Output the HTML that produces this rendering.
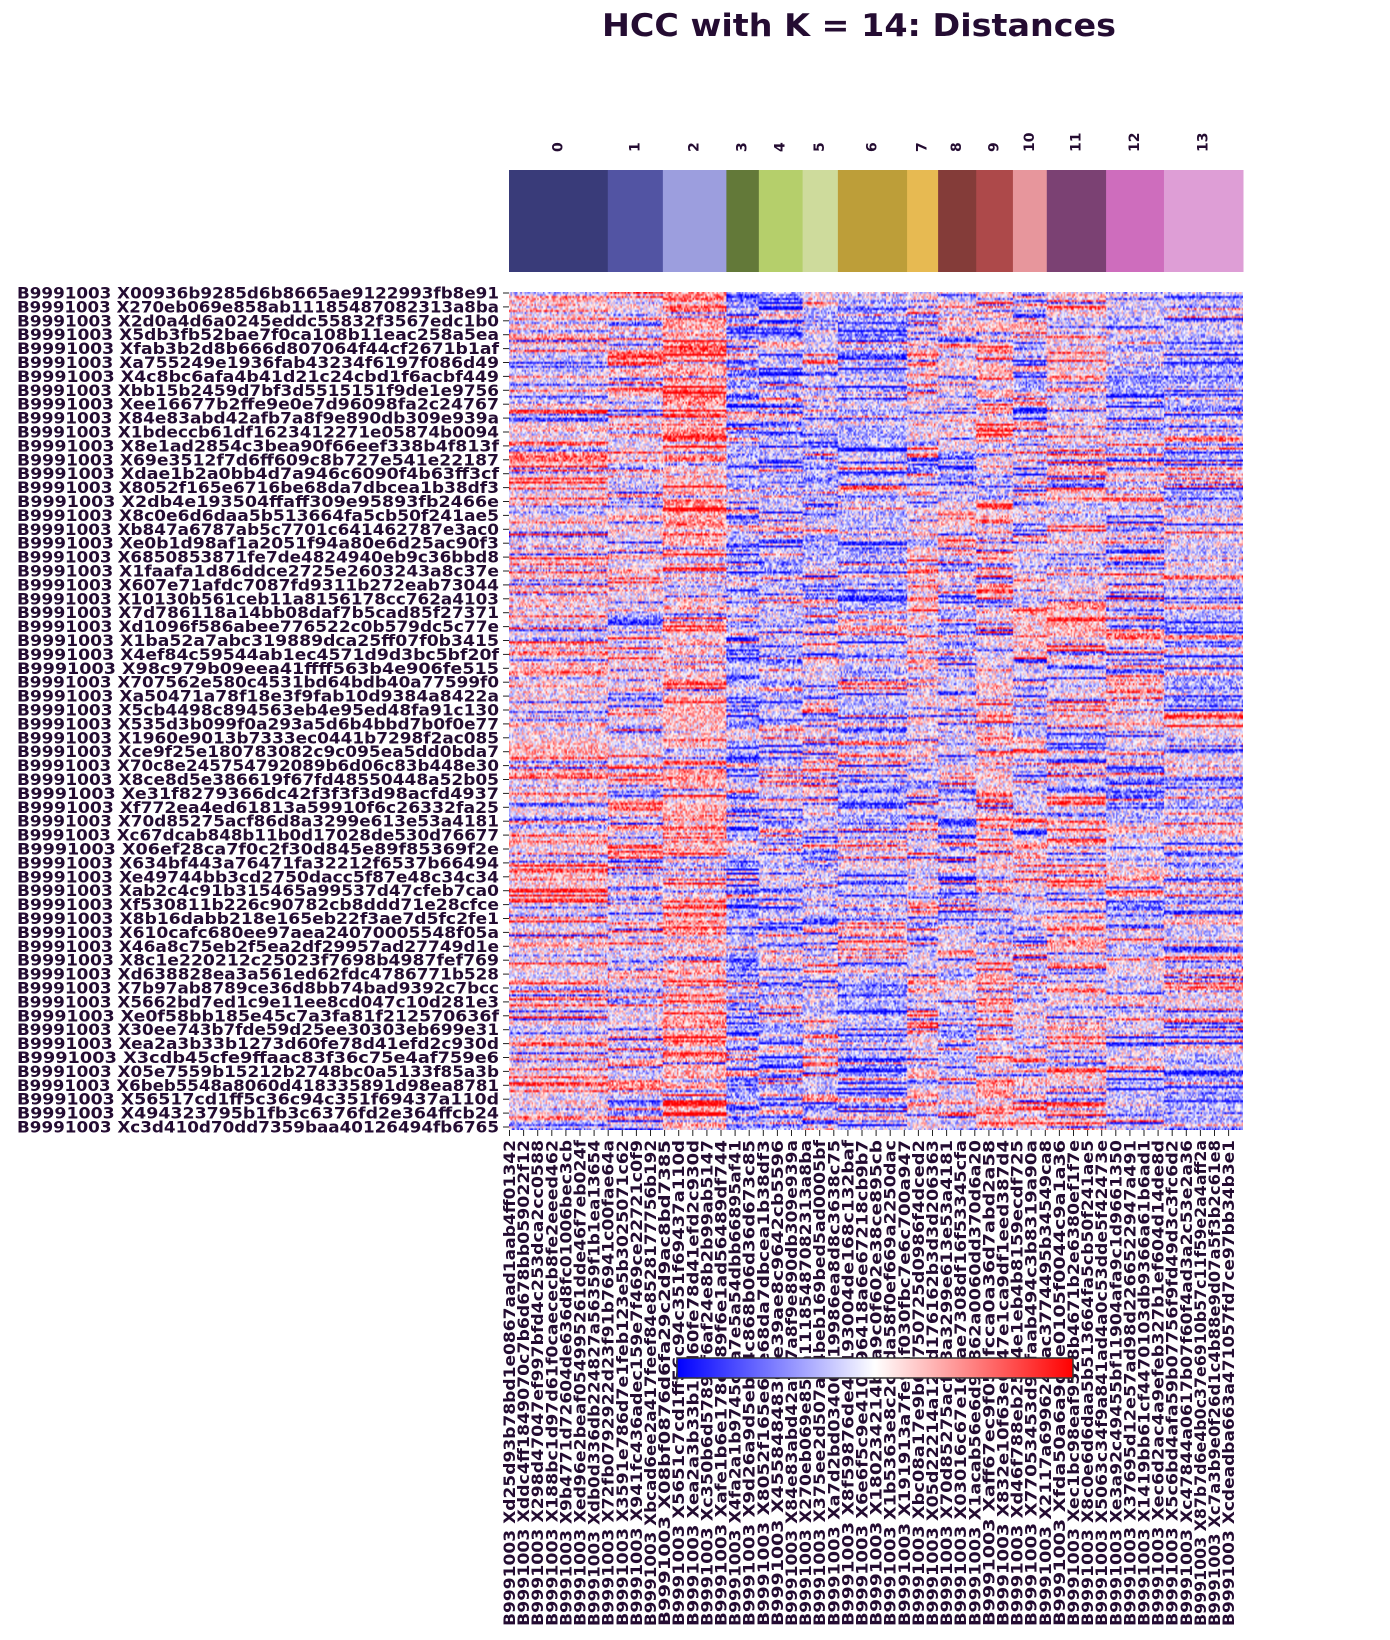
<!DOCTYPE html>
<html><head><meta charset="utf-8"><style>
html,body{margin:0;padding:0;background:#fff;}
#wrap{position:relative;width:1390px;height:1640px;overflow:hidden;}
svg{position:absolute;left:0;top:0;}
#hm{position:absolute;left:509px;top:292px;width:734px;height:838px;}
text{font-family:"DejaVu Sans","Liberation Sans",sans-serif;font-weight:bold;fill:#240c32;}
</style></head><body>
<div id="wrap">
<svg id="svg" width="1390" height="1640">
<text x="859" y="36" text-anchor="middle" font-size="31" textLength="514" lengthAdjust="spacingAndGlyphs">HCC with K = 14: Distances</text>
<g id="clusters"></g>
<g id="rows"></g>
<g id="cols"></g>
<g id="cbar"></g>
</svg>
<canvas id="hm" width="520" height="420"></canvas>
</div>
<script>
const clusterNames=["0","1","2","3","4","5","6","7","8","9","10","11","12","13"];
const clusterColors=["#393b79","#5254a3","#9c9ede","#637939","#b5cf6b","#cedb9c","#bd9e39","#e7ba52","#843c39","#ad494a","#e7969c","#7b4173","#ce6dbd","#de9ed6"];
const clusterSizes=[70,39,45,23,31,25,49,22,27,26,24,42,41,56];
const bandMeans=[
[0.2,-0.1,0.4,-0.4,-0.3,-0.1,-0.4,0.1,-0.1,0.2,-0.2,0,-0.2,-0.3],
[-0.1,0.2,0.4,-0.4,-0.3,-0.2,-0.4,0.2,-0.1,0.3,-0.4,0.1,-0.4,-0.4],
[0.1,0,0.3,-0.3,-0.2,-0.1,-0.3,0,0.1,0.2,-0.2,0,-0.2,-0.2],
[0.1,-0.1,0.2,-0.2,-0.2,-0.3,-0.2,0,-0.3,0.1,-0.1,0.1,-0.1,-0.3],
[0,0,0.4,-0.3,-0.2,-0.2,-0.2,0.1,0.2,0.1,-0.1,-0.1,-0.1,-0.1],
[0.1,0,0.3,-0.3,-0.3,-0.1,-0.3,0.1,-0.2,0.1,0,-0.1,0,0],
[0,0,0.3,-0.3,-0.2,-0.1,-0.3,0.1,-0.3,0,0.2,0.2,0,-0.3],
[0.1,0,0.3,-0.3,-0.3,-0.1,-0.2,0.1,-0.2,0,-0.2,0,0.1,-0.3],
[0.2,-0.1,0.2,-0.3,-0.2,-0.1,-0.1,0.1,-0.1,0.2,-0.1,-0.1,0,0.1],
[0,0.1,0.3,-0.3,-0.2,0,-0.3,0,-0.1,0.1,-0.2,0,-0.3,-0.2],
[0,0,0.2,-0.2,-0.3,-0.1,-0.1,0,-0.2,0.1,-0.1,0.1,0,-0.2],
[0.1,0,0.3,-0.4,-0.2,-0.2,-0.3,0,-0.3,-0.1,-0.1,0.1,-0.1,-0.2],
[0,0,0.2,-0.3,-0.1,-0.1,-0.1,0,-0.1,0.1,-0.2,0.2,0,-0.1],
[0.1,0,0.3,-0.3,-0.2,-0.2,-0.3,0.1,-0.1,0.2,0.1,0.1,-0.1,0],
[0,-0.1,0.3,-0.3,-0.3,-0.1,-0.2,0,-0.2,0,0,0.1,-0.1,-0.2],
[0,-0.1,0.3,-0.4,-0.3,-0.2,-0.3,0,-0.1,0.3,0.1,0.1,-0.2,-0.3]];
const rowLabels=["X00936b9285d6b8665ae9122993fb8e91","X270eb069e858ab11185487082313a8ba","X2d0a4d6a0245eddc55832f3567edc1b0","X5db3fb52bae7f0ca108b11eac258a5ea","Xfab3b2d8b666d807064f44cf2671b1af","Xa755249e1936fab43234f6197f086d49","X4c8bc6afa4b41d21c24cbd1f6acbf449","Xbb15b2459d7bf3d5515151f9de1e9756","Xee16677b2ffe9e0e7d96098fa2c24767","X84e83abd42afb7a8f9e890db309e939a","X1bdeccb61df1623412271e05874b0094","X8e1ad2854c3bea90f66eef338b4f813f","X69e3512f7d6ff609c8b727e541e22187","Xdae1b2a0bb4d7a946c6090f4b63ff3cf","X8052f165e6716be68da7dbcea1b38df3","X2db4e193504ffaff309e95893fb2466e","X8c0e6d6daa5b513664fa5cb50f241ae5","Xb847a6787ab5c7701c641462787e3ac0","Xe0b1d98af1a2051f94a80e6d25ac90f3","X6850853871fe7de4824940eb9c36bbd8","X1faafa1d86ddce2725e2603243a8c37e","X607e71afdc7087fd9311b272eab73044","X10130b561ceb11a8156178cc762a4103","X7d786118a14bb08daf7b5cad85f27371","Xd1096f586abee776522c0b579dc5c77e","X1ba52a7abc319889dca25ff07f0b3415","X4ef84c59544ab1ec4571d9d3bc5bf20f","X98c979b09eea41ffff563b4e906fe515","X707562e580c4531bd64bdb40a77599f0","Xa50471a78f18e3f9fab10d9384a8422a","X5cb4498c894563eb4e95ed48fa91c130","X535d3b099f0a293a5d6b4bbd7b0f0e77","X1960e9013b7333ec0441b7298f2ac085","Xce9f25e180783082c9c095ea5dd0bda7","X70c8e245754792089b6d06c83b448e30","X8ce8d5e386619f67fd48550448a52b05","Xe31f8279366dc42f3f3f3d98acfd4937","Xf772ea4ed61813a59910f6c26332fa25","X70d85275acf86d8a3299e613e53a4181","Xc67dcab848b11b0d17028de530d76677","X06ef28ca7f0c2f30d845e89f85369f2e","X634bf443a76471fa32212f6537b66494","Xe49744bb3cd2750dacc5f87e48c34c34","Xab2c4c91b315465a99537d47cfeb7ca0","Xf530811b226c90782cb8ddd71e28cfce","X8b16dabb218e165eb22f3ae7d5fc2fe1","X610cafc680ee97aea24070005548f05a","X46a8c75eb2f5ea2df29957ad27749d1e","X8c1e220212c25023f7698b4987fef769","Xd638828ea3a561ed62fdc4786771b528","X7b97ab8789ce36d8bb74bad9392c7bcc","X5662bd7ed1c9e11ee8cd047c10d281e3","Xe0f58bb185e45c7a3fa81f212570636f","X30ee743b7fde59d25ee30303eb699e31","Xea2a3b33b1273d60fe78d41efd2c930d","X3cdb45cfe9ffaac83f36c75e4af759e6","X05e7559b15212b2748bc0a5133f85a3b","X6beb5548a8060d418335891d98ea8781","X56517cd1ff5c36c94c351f69437a110d","X494323795b1fb3c6376fd2e364ffcb24","Xc3d410d70dd7359baa40126494fb6765"];
const colLabels=["Xd25d93b78bd1e0867aad1aab4ff01342","Xddc4ff1849070c7b6d678bb059022f12","X298d47047ef997bfd4c253dca2cc0588","X188bc1d97d61f0caececb8fe2eeed462","X9b4771d72604de636d8fc01006bec3cb","Xed96e2beaf054995261dde46f7eb024f","Xdb0d336db224827a56359f1b1ea13654","X72fb0792922d23f91b76941c00fae64a","X3591e786d7e1feb123e5b3025071c62","X941fc436adec159e7f469ce22721c0f9","Xbcad6ee2a417feef84e8528177756b192","X08bf0876d6fa29c2d9ac8bd7385","X5651c7cd1ff56c94c351f69437a110d","Xea2a3b33b12d60fe78d41efd2c930d","Xc350b6d57890f6af24e8b2b99ab5147","Xafe1b6e178e289f6e1ad56489df744","X4fa2a1b9745c8a7e5a54dbb66895af41","X9d26a9d5eb04c868b06d36d673c85","X8052f165e67e68da7dbcea1b38df3","X4558484836fe39ae8c9642cb5596","X84e83abd42afb7a8f9e890db309e939a","X270eb069e858a11185487082313a8ba","X375ee2d507a44beb169bed5ad0005bf","Xa7d2bd03406019986ea8d8c3638c75","X8f59876de42193004de168c132baf","X6e6f5c9e410e96418a6e67218cb9b7","X180234214bca9c0f602e38ce895cb","X1b5363e8c2c7da58f0ef669a2250dac","X191913a7fe9af030fbc7e6c700a947","Xbc08a17e9b6b750725d0986f4dced2","X05d22214a120d176162b3d3d206363","X70d85275acf88a3299e613e53a4181","X03016c67e16bae7308df16f53345cfa","X1acab56e6d9b862a0060dd370d6a20","Xaff67ec9f050fcca0a36d7abd2a58","X832e10f63e6f47e1ca9df1eed387d4","Xd46f788eb2594e1eb4b8159ecdf725","X77053453d93faab494c3b8319a90a","X2117a6996247ac3774495b34549ca8","Xfda50a6a9dbe0105f0044c9a1a36","Xec1bc98eaf9528b4671b2e6380ef1f7e","X8c0e6d6daa5b513664fa5cb50f241ae5","X5063c34f9a841ad4a0c53dde5f42473e","Xe3a92c49455bf11904afa9c1d9661350","X37695d12e57ad98d2266522947a491","X1419bb61cf4470103db9366a61b6ad1","Xec6d2ac4a9efeb327b1ef604d14de8d","X5c6bd4afa59b07756f9fd49d3c3fc6d2","Xc47844a0617b07f60f4ad3a2c53e2a36","X87b7d6e4b0c37e6910b57c11f59e2a4aff2a","Xc7a3b9e0f26d1c4b88e9d07a5f3b2c61e8","Xcdeadba663a471057fd7ce97bb34b3e1"];

const L=509,T=292,W=734,H=838;
const NS="http://www.w3.org/2000/svg";
function mk(tag,attrs,parent){const e=document.createElementNS(NS,tag);for(const k in attrs)e.setAttribute(k,attrs[k]);parent.appendChild(e);return e;}
const totalCols=clusterSizes.reduce((a,b)=>a+b,0);
function xScale(col){return L+col/totalCols*W;}
const gC=document.getElementById('clusters');
let acc=0;
clusterSizes.forEach((s,i)=>{
  const x0=xScale(acc),x1=xScale(acc+s);
  const r=mk('rect',{x:x0,y:170,width:x1-x0+0.5,height:102,fill:clusterColors[i]},gC);
  
  
  const cx=(x0+x1)/2;
  const t=mk('text',{x:0,y:0,'font-size':14,'text-anchor':'start','dominant-baseline':'central',transform:`translate(${cx},152) rotate(-90)`},gC);
  t.textContent=clusterNames[i];
  
  
  acc+=s;
});
const gR=document.getElementById('rows');
const rStep=13.9;
rowLabels.forEach((lab,i)=>{
  const y=T+1+i*rStep;
  const tk=mk('line',{x1:L-6,x2:L,y1:y,y2:y,stroke:'#222','stroke-width':1},gR);
  
  
  const t=mk('text',{x:L-10,y:y,'font-size':16,'text-anchor':'end','dominant-baseline':'central',textLength:482,lengthAdjust:'spacingAndGlyphs'},gR);
  t.textContent='B9991003 '+lab;
  
  
});
const gK=document.getElementById('cols');
const cStep=14.1;
colLabels.forEach((lab,i)=>{
  const x=L+0.5+i*cStep;
  const tk=mk('line',{x1:x,x2:x,y1:T+H,y2:T+H+6,stroke:'#222','stroke-width':1},gK);
  
  
  const t=mk('text',{x:0,y:0,'font-size':16,'text-anchor':'end','dominant-baseline':'central',textLength:486,lengthAdjust:'spacingAndGlyphs',transform:`translate(${x},${T+H+10}) rotate(-90)`},gK);
  t.textContent='B9991003 '+lab;
  
  
});
const gB=document.getElementById('cbar');
const defs=mk('defs',{},gB);
const lg=mk('linearGradient',{id:'bwr',x1:0,x2:1,y1:0,y2:0},defs);
mk('stop',{offset:'0',"stop-color":'#0000ff'},lg);
mk('stop',{offset:'0.5',"stop-color":'#ffffff'},lg);
mk('stop',{offset:'1',"stop-color":'#ff0000'},lg);
const cb=mk('rect',{x:677,y:1358,width:396,height:20,fill:'url(#bwr)',stroke:'#333','stroke-width':1.5},gB);


[677,875,1073].forEach(x=>{const l=mk('line',{x1:x,x2:x,y1:1378,y2:1383,stroke:'#333'},gB);
 
 });

function hsh(a,b){let n=(a*374761393+b*668265263)|0;n=(n^(n>>>13))*1274126177|0;n=n^(n>>>16);return ((n>>>0)%10000)/5000-1;}
const cv=document.getElementById('hm');const ctx=cv.getContext('2d');
const NR=420,NC=totalCols;
const img=ctx.createImageData(NC,NR);
const clusterOf=[];clusterSizes.forEach((s,i)=>{for(let j=0;j<s;j++)clusterOf.push(i);});
for(let r=0;r<NR;r++){
  const band=Math.min(bandMeans.length-1,Math.floor(r/NR*bandMeans.length));
  for(let c=0;c<NC;c++){
    const k=clusterOf[c];
    const re=hsh(r,k*31+7);
    const rowEff=re*re*re*0.8+re*0.15;
    let v=bandMeans[band][k]*0.9+rowEff+hsh(r*13+5,c*17+3)*0.5;
    v=Math.max(-1,Math.min(1,v));
    let R,G,B;
    if(v<0){R=G=Math.round((1+v)*255);B=255;}else{R=255;G=B=Math.round((1-v)*255);}
    const p=(r*NC+c)*4;img.data[p]=R;img.data[p+1]=G;img.data[p+2]=B;img.data[p+3]=255;
  }
}
ctx.putImageData(img,0,0);
</script>
</body></html>
